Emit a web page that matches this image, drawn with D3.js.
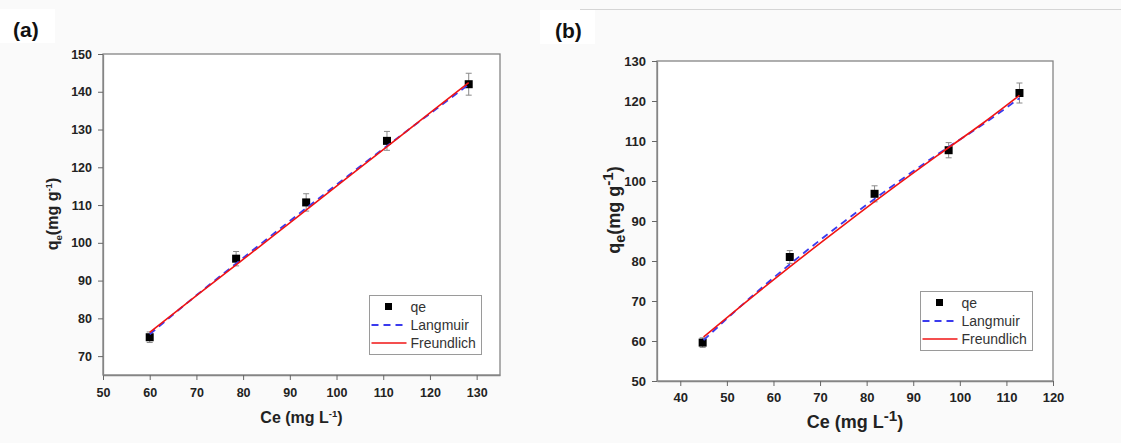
<!DOCTYPE html>
<html>
<head>
<meta charset="utf-8">
<script src="https://cdn.jsdelivr.net/npm/d3@7"></script>
<style>
  body { margin: 0; background: #fafafa; }
  text { font-family: Arial, "Liberation Sans", sans-serif; }
</style>
</head>
<body>
<div id="chart"></div>
<script>
// panel (a)
var ceA = [60, 78.5, 93.5, 110.8, 128.3];
var qeA = [75, 95.8, 110.7, 127, 142];
var errA = [1.4, 1.9, 2.3, 2.5, 2.9];
var fitXA = [60, 70, 80, 90, 100, 110, 120, 128.3];
var langA = [75.8, 86.1, 96.0, 105.8, 115.4, 124.9, 134.2, 141.9];
var freuA = [76.3, 86.0, 95.6, 105.3, 115.0, 124.7, 134.4, 142.4];
var xTicksA = [50, 60, 70, 80, 90, 100, 110, 120, 130];
var yTicksA = [70, 80, 90, 100, 110, 120, 130, 140, 150];

// panel (b)
var ceB = [44.8, 63.5, 81.7, 97.6, 112.8];
var qeB = [59.6, 81, 96.8, 107.7, 122];
var errB = [1.2, 1.6, 2.0, 1.9, 2.5];
var fitXB = [45, 55, 65, 75, 85, 95, 105, 112.8];
var langB = [60.2, 70.8, 80.6, 89.7, 98.3, 106.5, 114.2, 120.7];
var freuB = [61.0, 70.6, 79.9, 88.9, 97.7, 106.2, 114.5, 121.4];
var xTicksB = [40, 50, 60, 70, 80, 90, 100, 110, 120];
var yTicksB = [50, 60, 70, 80, 90, 100, 110, 120, 130];

var legendNames = ["qe", "Langmuir", "Freundlich"];

var svg = d3.select("#chart").append("svg")
    .attr("width", 1121)
    .attr("height", 443);

svg.append("rect").attr("width", 1121).attr("height", 443).attr("fill", "#fafafa");
// thin rule on top of panel b
svg.append("line").attr("x1", 580).attr("x2", 1121).attr("y1", 9.5).attr("y2", 9.5)
    .attr("stroke", "#d5d5d5").attr("stroke-width", 1);

function panel(o) {
  var x = d3.scaleLinear().domain(o.xDomain).range([o.left, o.right]);
  var y = d3.scaleLinear().domain(o.yDomain).range([o.bottom, o.top]);

  // panel letter on white box
  svg.append("rect").attr("x", o.boxX).attr("y", o.labY - 28).attr("width", 55).attr("height", 34).attr("fill", "#fff");
  svg.append("text").attr("x", o.labX).attr("y", o.labY).text(o.label)
      .style("font-size", "21px").style("font-weight", "bold").attr("fill", "#111");

  svg.append("rect").attr("x", o.left).attr("y", o.top)
      .attr("width", o.right - o.left).attr("height", o.bottom - o.top)
      .attr("fill", "#fff").attr("stroke", "#858585").attr("stroke-width", 1.3);

  var gx = svg.append("g").attr("transform", "translate(0," + o.bottom + ")")
      .call(d3.axisBottom(x).tickValues(o.xTicks).tickSize(5).tickPadding(o.xPad).tickSizeOuter(0));
  var gy = svg.append("g").attr("transform", "translate(" + o.left + ",0)")
      .call(d3.axisLeft(y).tickValues(o.yTicks).tickSize(5).tickPadding(6).tickSizeOuter(0));
  [gx, gy].forEach(function(g) {
    g.select(".domain").attr("stroke", "#858585").attr("stroke-width", 1.3);
    g.selectAll(".tick line").attr("stroke", "#666");
    g.selectAll(".tick text").attr("fill", "#222")
        .style("font-size", o.tickFont + "px").style("font-weight", "bold")
        .style("font-family", "Arial, 'Liberation Sans', sans-serif");
  });

  // axis titles
  var tf = o.titleFont;
  var xt = svg.append("text").attr("x", (o.left + o.right) / 2).attr("y", o.xTitleY)
      .attr("text-anchor", "middle").style("font-size", tf + "px").style("font-weight", "bold").attr("fill", "#222");
  xt.append("tspan").text("Ce (mg L");
  xt.append("tspan").text("-1").attr("dy", -tf * 0.4).style("font-size", (tf * o.supScale) + "px");
  xt.append("tspan").text(")").attr("dy", tf * 0.4);

  var yt = svg.append("text")
      .attr("transform", "translate(" + o.yTitleX + "," + o.yTitleMid + ") rotate(-90)")
      .attr("text-anchor", "middle").style("font-size", tf + "px").style("font-weight", "bold").attr("fill", "#222");
  yt.append("tspan").text("q");
  yt.append("tspan").text("e").attr("dy", tf * 0.25).style("font-size", (tf * o.subScale) + "px");
  yt.append("tspan").text("(mg g").attr("dy", -tf * 0.25);
  yt.append("tspan").text("-1").attr("dy", -tf * 0.4).style("font-size", (tf * o.supScale) + "px");
  yt.append("tspan").text(")").attr("dy", tf * 0.4);

  var line = d3.line().x(function(d) { return x(d[0]); }).y(function(d) { return y(d[1]); }).curve(d3.curveMonotoneX);
  var lang = o.fitX.map(function(v, i) { return [v, o.lang[i]]; });
  var freu = o.fitX.map(function(v, i) { return [v, o.freu[i]]; });

  // error bars
  var pts = o.ce.map(function(v, i) { return {x: v, y: o.qe[i], e: o.err[i]}; });
  var eb = svg.append("g").attr("stroke", "#8a8a8a").attr("stroke-width", 1);
  pts.forEach(function(d) {
    eb.append("line").attr("x1", x(d.x)).attr("x2", x(d.x)).attr("y1", y(d.y - d.e)).attr("y2", y(d.y + d.e));
    eb.append("line").attr("x1", x(d.x) - 3).attr("x2", x(d.x) + 3).attr("y1", y(d.y - d.e)).attr("y2", y(d.y - d.e));
    eb.append("line").attr("x1", x(d.x) - 3).attr("x2", x(d.x) + 3).attr("y1", y(d.y + d.e)).attr("y2", y(d.y + d.e));
  });

  svg.append("g").selectAll("rect").data(pts).enter().append("rect")
      .attr("x", function(d) { return x(d.x) - 4; }).attr("y", function(d) { return y(d.y) - 4; })
      .attr("width", 8).attr("height", 8).attr("fill", "#000");

  svg.append("path").datum(lang).attr("fill", "none").attr("stroke", "#3a3aee").attr("stroke-width", 1.8)
      .attr("stroke-dasharray", "7,5").attr("d", line);
  svg.append("path").datum(freu).attr("fill", "none").attr("stroke", "#f01414").attr("stroke-width", 1.6).attr("d", line);

  // legend
  var lg = svg.append("g").attr("transform", "translate(" + o.legX + "," + o.legY + ")");
  lg.append("rect").attr("width", 112).attr("height", 59).attr("fill", "#fff").attr("stroke", "#9a9a9a").attr("stroke-width", 1);
  legendNames.forEach(function(n, i) {
    var cy = 11.5 + i * 18;
    if (i === 0) lg.append("rect").attr("x", 15.5).attr("y", cy - 4).attr("width", 7).attr("height", 7).attr("fill", "#000");
    if (i === 1) lg.append("line").attr("x1", 2).attr("x2", 37).attr("y1", cy).attr("y2", cy)
        .attr("stroke", "#3a3aee").attr("stroke-width", 1.8).attr("stroke-dasharray", "7,5");
    if (i === 2) lg.append("line").attr("x1", 2).attr("x2", 37).attr("y1", cy).attr("y2", cy)
        .attr("stroke", "#f01414").attr("stroke-width", 1.6);
    lg.append("text").attr("x", 41).attr("y", cy + 5).text(n)
        .style("font-size", "14px").attr("fill", "#333");
  });
}

panel({
  label: "(a)", labX: 13, labY: 37, boxX: 0,
  left: 103, right: 500, top: 54, bottom: 375,
  xDomain: [50, 135], yDomain: [65, 150],
  xTicks: xTicksA, yTicks: yTicksA, xPad: 8,
  ce: ceA, qe: qeA, err: errA, fitX: fitXA, lang: langA, freu: freuA,
  tickFont: 12.5, titleFont: 16, subScale: 0.6, supScale: 0.6,
  xTitleY: 423, yTitleX: 58, yTitleMid: 214,
  legX: 369.5, legY: 295.5
});

panel({
  label: "(b)", labX: 555, labY: 38, boxX: 540,
  left: 657, right: 1053, top: 61, bottom: 381,
  xDomain: [35, 120], yDomain: [50, 130],
  xTicks: xTicksB, yTicks: yTicksB, xPad: 7,
  ce: ceB, qe: qeB, err: errB, fitX: fitXB, lang: langB, freu: freuB,
  tickFont: 13, titleFont: 18, subScale: 0.8, supScale: 0.85,
  xTitleY: 428, yTitleX: 620, yTitleMid: 210,
  legX: 920.5, legY: 291.5
});
</script>
</body>
</html>
